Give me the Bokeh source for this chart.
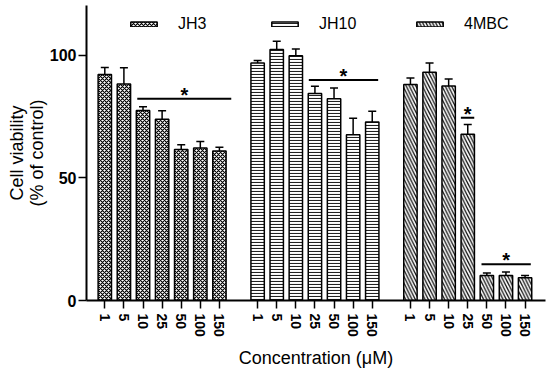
from bokeh.plotting import figure
from bokeh.models import (ColumnDataSource, Range1d, FixedTicker, Whisker, TeeHead,
                          Legend, LegendItem)
from bokeh.core.properties import value
from bokeh.embed import file_html
from bokeh.resources import INLINE

# ---- data ----
concentrations = ["1", "5", "10", "25", "50", "100", "150"]
groups = ["JH3", "JH10", "4MBC"]
jh3_mean = [92.2, 88.4, 77.5, 74.0, 61.6, 62.2, 61.0]
jh3_err = [2.9, 6.6, 1.6, 3.4, 2.0, 2.7, 1.5]
jh10_mean = [96.9, 102.4, 99.9, 84.5, 82.3, 67.6, 72.9]
jh10_err = [1.1, 3.4, 2.7, 2.9, 4.4, 6.8, 4.3]
mbc_mean = [88.2, 93.2, 87.5, 67.9, 10.2, 10.2, 9.3]
mbc_err = [2.6, 3.7, 2.9, 3.9, 1.0, 1.4, 0.9]
# significance bars (start slot, end slot, height)
sig_x0 = [1.70, 10.68, 18.64, 19.72]
sig_x1 = [6.62, 14.31, 19.34, 22.30]
sig_y = [82.3, 90.0, 74.6, 14.8]
yticks = [0, 50, 100]
x_title = "Concentration (\u03bcM)"
y_title = "Cell viability\n(% of control)"

FONT = "Liberation Sans"

p = figure(width=550, height=372, output_backend="svg", toolbar_location=None,
           x_range=Range1d(-0.958, 23.07), y_range=Range1d(0, 120.4),
           min_border_left=86, min_border_right=5, min_border_top=5, min_border_bottom=72)
p.outline_line_color = None
p.xgrid.grid_line_color = None
p.ygrid.grid_line_color = None
p.background_fill_color = "white"

styles = [
    dict(hatch_pattern="diagonal_cross", hatch_scale=4, hatch_weight=1.15, hatch_color="#000000"),
    dict(hatch_pattern="horizontal_line", hatch_scale=3, hatch_weight=1.1, hatch_color="#222222"),
    dict(hatch_pattern="left_diagonal_line", hatch_scale=6.5, hatch_weight=1.3, hatch_color="#111111"),
]
means = [jh3_mean, jh10_mean, mbc_mean]
errs = [jh3_err, jh10_err, mbc_err]

renderers = []
tick_pos = []
tick_labels = {}
for g, (m, e, st) in enumerate(zip(means, errs, styles)):
    xs = [g * (len(concentrations) + 1) + j for j in range(len(concentrations))]
    for x, c in zip(xs, concentrations):
        tick_pos.append(x)
        tick_labels[x] = c
    src = ColumnDataSource(dict(x=xs, top=m, upper=[a + b for a, b in zip(m, e)],
                                lower=[a - b for a, b in zip(m, e)]))
    r = p.vbar(x="x", top="top", bottom=0, width=0.7, source=src, fill_color="white",
               line_color="black", line_width=1.5, **st)
    renderers.append(r)
    w = Whisker(base="x", upper="upper", lower="lower", source=src, line_color="black",
                line_width=1.5,
                upper_head=TeeHead(size=8, line_width=1.5, line_color="black"),
                lower_head=TeeHead(size=8, line_width=1.5, line_color="black"))
    p.add_layout(w)

sig_src = ColumnDataSource(dict(x0=sig_x0, x1=sig_x1, y=sig_y,
                                xm=[(a + b) / 2 for a, b in zip(sig_x0, sig_x1)],
                                t=["*"] * len(sig_y)))
p.segment(x0="x0", y0="y", x1="x1", y1="y", source=sig_src, line_color="black", line_width=2)
p.text(x="xm", y="y", text="t", source=sig_src, text_align="center", text_baseline="alphabetic",
       y_offset=-4, text_font=value(FONT), text_font_size="20px", text_font_style="bold",
       text_color="black")

# axes
p.xaxis.ticker = FixedTicker(ticks=tick_pos)
p.xaxis.major_label_overrides = tick_labels
p.xaxis.major_label_orientation = "vertical"
p.yaxis.ticker = FixedTicker(ticks=yticks)
for ax in (p.xaxis, p.yaxis):
    ax.axis_line_width = 2
    ax.axis_line_color = "black"
    ax.major_tick_line_width = 1.5
    ax.major_tick_line_color = "black"
    ax.major_tick_out = 8
    ax.major_tick_in = 0
    ax.minor_tick_line_color = None
    ax.major_label_text_font = FONT
    ax.major_label_text_font_style = "bold"
    ax.major_label_text_color = "black"
    ax.axis_label_text_font = FONT
    ax.axis_label_text_font_style = "normal"
    ax.axis_label_text_font_size = "18px"
    ax.axis_label_text_color = "black"
p.xaxis.major_label_text_font_size = "14px"
p.yaxis.major_label_text_font_size = "16px"
p.xaxis.major_label_standoff = 5
p.yaxis.major_label_standoff = 2
p.xaxis.axis_label = x_title
p.yaxis.axis_label = y_title
p.xaxis.axis_label_standoff = 8
p.yaxis.axis_label_standoff = 0
p.yaxis.axis_label_text_line_height = 1.0

legend_x = [41, 182, 327]
for r, name, lx in zip(renderers, groups, legend_x):
    leg = Legend(items=[LegendItem(label=name, renderers=[r])], location=(lx, 267),
                 orientation="horizontal", glyph_width=33, glyph_height=6, label_standoff=18,
                 padding=0, margin=0, spacing=0, border_line_color=None,
                 background_fill_alpha=0, label_text_font=FONT, label_text_font_size="16px",
                 label_text_color="black", label_height=6)
    p.add_layout(leg)

open("out.html", "w").write(file_html(p, INLINE))
